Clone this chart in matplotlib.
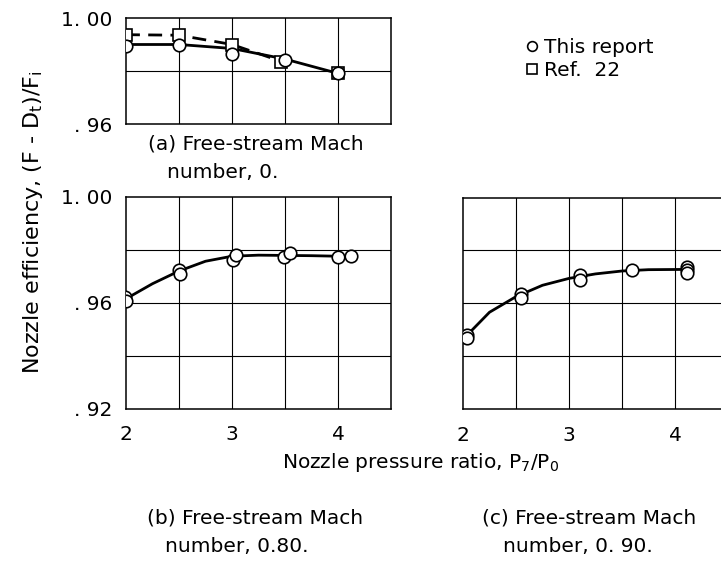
import matplotlib
matplotlib.use('Agg')
import matplotlib.pyplot as plt
from matplotlib.lines import Line2D

plt.rcParams['font.family'] = ['DejaVu Sans']
plt.rcParams['mathtext.fontset'] = 'dejavusans'

# (a) free-stream Mach 0
a_x_this = [2.0, 2.5, 3.0, 3.5, 4.0]
a_y_this = [0.9895, 0.9897, 0.9866, 0.9841, 0.9791]
a_x_ref = [2.0, 2.5, 3.0, 3.46, 4.0]
a_y_ref = [0.9935, 0.9935, 0.9898, 0.9835, 0.9791]
a_fair_x = [2.0, 2.5, 3.0, 3.5, 4.0]
a_fair_y = [0.9900, 0.9900, 0.9885, 0.9845, 0.9791]
a_dash_x = [2.0, 2.5, 3.0, 3.46]
a_dash_y = [0.9937, 0.9935, 0.9900, 0.9837]

# (b) free-stream Mach 0.80
b_x = [1.99, 2.0, 2.5, 2.51, 3.01, 3.04, 3.49, 3.55, 4.0, 4.125]
b_y = [0.9620, 0.9607, 0.9725, 0.9710, 0.9763, 0.9782, 0.9772, 0.9789, 0.9772, 0.9776]
b_fair_x = [2.0, 2.25, 2.5, 2.75, 3.0, 3.25, 3.5, 3.75, 4.0]
b_fair_y = [0.9615, 0.9672, 0.9720, 0.9757, 0.9776, 0.9780, 0.9779, 0.9778, 0.9776]

# (c) free-stream Mach 0.90
c_x = [2.04, 2.04, 2.55, 2.55, 3.10, 3.10, 3.59, 4.11, 4.11, 4.11]
c_y = [0.9481, 0.9467, 0.9635, 0.9618, 0.9705, 0.9687, 0.9724, 0.9739, 0.9727, 0.9714]
c_fair_x = [2.05, 2.25, 2.5, 2.75, 3.0, 3.25, 3.5, 3.75, 4.1]
c_fair_y = [0.9484, 0.9566, 0.9625, 0.9668, 0.9694, 0.9711, 0.9722, 0.9727, 0.9728]

W, H = 721, 561
fig = plt.figure(figsize=(W / 100, H / 100), dpi=100)

ax_a = fig.add_axes([126 / W, 1 - 124 / H, 265 / W, 106 / H])
ax_b = fig.add_axes([126 / W, 1 - 408.5 / H, 265 / W, 211.5 / H])
ax_c = fig.add_axes([463 / W, 1 - 409 / H, 265 / W, 211.5 / H])

mk = dict(marker='o', ms=9, mfc='white', mec='black', mew=1.2, ls='none', zorder=3)
fs = 14.5

for ax in (ax_a, ax_b, ax_c):
    ax.set_xlim(2, 4.5)
    for x in (2.5, 3.0, 3.5, 4.0):
        ax.axvline(x, color='black', lw=0.8, zorder=1)
    for s in ax.spines.values():
        s.set_linewidth(1.1)
    ax.tick_params(length=0, labelsize=fs, pad=10)

# panel (a)
ax_a.set_ylim(0.96, 1.00)
ax_a.axhline(0.98, color='black', lw=0.8, zorder=1)
ax_a.plot(a_fair_x, a_fair_y, color='black', lw=2, zorder=2)
ax_a.plot(a_dash_x, a_dash_y, color='black', lw=2, ls=(0, (5, 3)), zorder=2)
ax_a.plot(a_x_ref, a_y_ref, marker='s', ms=9, mfc='white', mec='black', mew=1.2, ls='none', zorder=3)
ax_a.plot(a_x_this, a_y_this, **mk)
ax_a.set_yticks([0.96, 1.00], ['. 96', '1. 00'])
ax_a.set_xticks([])

# panels (b) and (c)
for ax in (ax_b, ax_c):
    ax.set_ylim(0.92, 1.00)
    for y in (0.94, 0.96, 0.98):
        ax.axhline(y, color='black', lw=0.8, zorder=1)
    ax.set_xticks([2, 3, 4], ['2', '3', '4'])
    ax.tick_params(axis='x', pad=12)

ax_b.plot(b_fair_x, b_fair_y, color='black', lw=2, zorder=2)
ax_b.plot(b_x, b_y, **mk)
ax_b.set_yticks([0.92, 0.96, 1.00], ['. 92', '. 96', '1. 00'])

ax_c.plot(c_fair_x, c_fair_y, color='black', lw=2, zorder=2)
ax_c.plot(c_x, c_y, **mk)
ax_c.set_yticks([])

# legend
handles = [Line2D([], [], marker='o', ms=7, mfc='white', mec='black', mew=1.2, ls='none'),
           Line2D([], [], marker='s', ms=7, mfc='white', mec='black', mew=1.2, ls='none')]
fig.legend(handles, ['This report', 'Ref.  22'], loc='upper left',
           bbox_to_anchor=(518 / W, 1 - 30 / H), frameon=False, fontsize=fs,
           handlelength=0.6, handletextpad=0.3, labelspacing=0.2, borderaxespad=0)

# captions
fig.text(33 / W, 1 - 222 / H, r'Nozzle efficiency, (F - D$_\mathrm{t}$)/F$_\mathrm{i}$', rotation=90,
         ha='center', va='center', fontsize=16)
fig.text(282 / W, 1 - 462 / H, r'Nozzle pressure ratio, P$_\mathrm{7}$/P$_\mathrm{0}$',
         ha='left', va='center', fontsize=fs)
fig.text(148 / W, 1 - 144 / H, '(a) Free-stream Mach', ha='left', va='center', fontsize=fs)
fig.text(167 / W, 1 - 172 / H, 'number, 0.', ha='left', va='center', fontsize=fs)
fig.text(147 / W, 1 - 518 / H, '(b) Free-stream Mach', ha='left', va='center', fontsize=fs)
fig.text(165 / W, 1 - 547 / H, 'number, 0.80.', ha='left', va='center', fontsize=fs)
fig.text(482 / W, 1 - 518 / H, '(c) Free-stream Mach', ha='left', va='center', fontsize=fs)
fig.text(503 / W, 1 - 547 / H, 'number, 0. 90.', ha='left', va='center', fontsize=fs)

fig.savefig('out.png', dpi=100)
